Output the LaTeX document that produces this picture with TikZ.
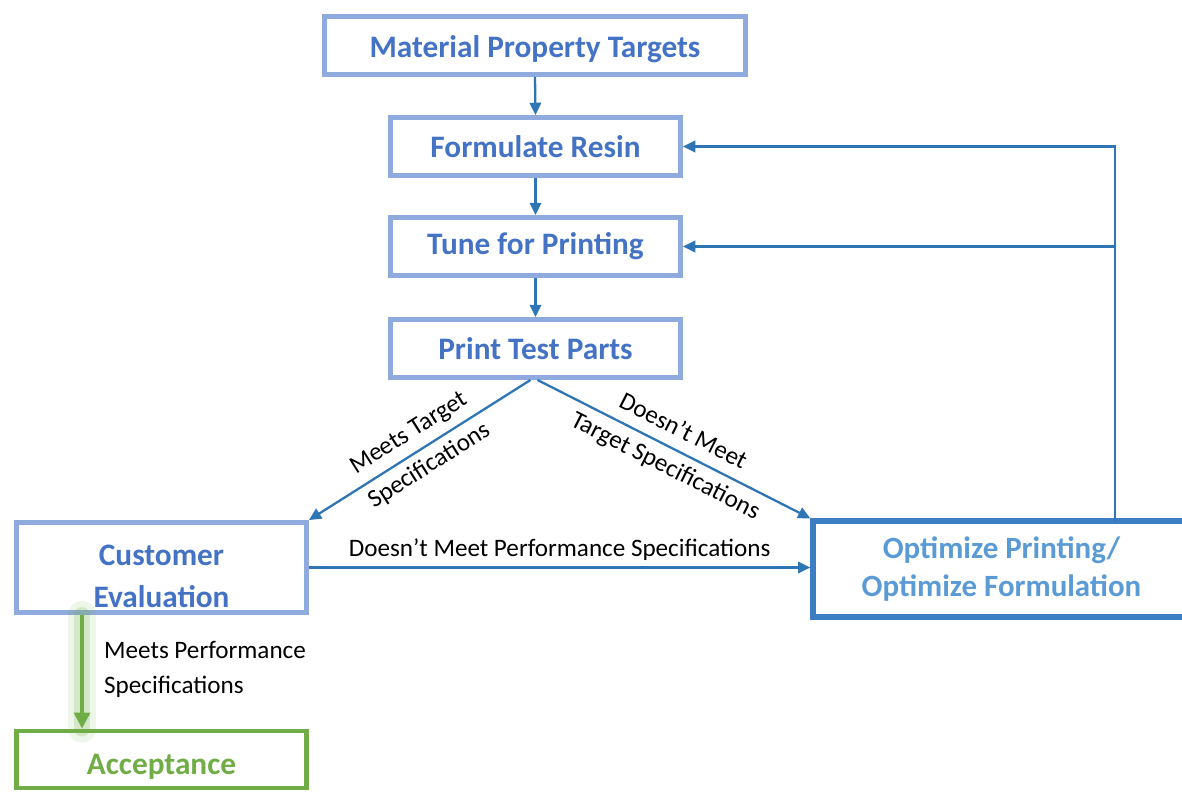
\documentclass[tikz,border=0pt]{standalone}
\usepackage{fontspec}
\setmainfont{Carlito}
\usetikzlibrary{arrows.meta}
\definecolor{boxline}{HTML}{8FAADC}
\definecolor{boxtext}{HTML}{4472C4}
\definecolor{optline}{HTML}{3D7EC2}
\definecolor{opttext}{HTML}{5B9BD5}
\definecolor{arrowblue}{HTML}{2E75B6}
\definecolor{accgreen}{HTML}{70AD47}
\tikzset{
  stepbox/.style={draw=boxline, line width=2.8pt, rectangle, text=boxtext,
    font=\fontsize{17.8pt}{21pt}\selectfont\bfseries, align=center, inner sep=0pt},
  optbox/.style={draw=optline, line width=3pt, rectangle, text=opttext,
    font=\fontsize{17.6pt}{22pt}\selectfont\bfseries, align=center, inner sep=0pt},
  accbox/.style={draw=accgreen, line width=2.8pt, rectangle, text=accgreen,
    font=\fontsize{17.8pt}{21pt}\selectfont\bfseries, align=center, inner sep=0pt},
  flow/.style={draw=arrowblue, line width=1.3pt, -{Triangle[length=7pt,width=6.5pt]}},
  lbl/.style={text=black, font=\fontsize{14.3pt}{17pt}\selectfont, align=center}
}
\begin{document}
\begin{tikzpicture}[x=0.02cm, y=-0.02cm]
  \useasboundingbox (0,0) rectangle (1182,792);

  % process boxes
  \node[stepbox, minimum width=421*0.02cm, minimum height=58*0.02cm,
        text height=17pt, text depth=3.7pt] (mpt) at (535,45.5) {Material Property Targets};
  \node[stepbox, minimum width=290*0.02cm, minimum height=58*0.02cm] (fr) at (535.5,146.5) {Formulate Resin};
  \node[stepbox, minimum width=290*0.02cm, minimum height=58*0.02cm] (tpr) at (535.5,246.5) {Tune for Printing};
  \node[stepbox, minimum width=290*0.02cm, minimum height=58*0.02cm] (ptp) at (535.5,348.5) {Print Test Parts};
  \node[stepbox, minimum width=290*0.02cm, minimum height=90*0.02cm,
        font=\fontsize{17.8pt}{23.8pt}\selectfont\bfseries,
        text height=45pt, text depth=0pt] (ce) at (161.5,567.5) {Customer\\Evaluation};
  \node[accbox, minimum width=290*0.02cm, minimum height=57*0.02cm,
        text height=20.5pt, text depth=3.7pt] (acc) at (161.5,759.5) {Acceptance};
  \node[optbox, minimum width=377*0.02cm, minimum height=96*0.02cm] (opt) at (1001.5,569) {Optimize Printing/\\Optimize Formulation};

  % main flow
  \draw[flow] (mpt.south) -- (fr.north);
  \draw[flow] (fr.south) -- (tpr.north);
  \draw[flow] (tpr.south) -- (ptp.north);

  \draw[flow] ([xshift=-0.1cm]ptp.south) -- (ce.north east)
    node[lbl, midway, sloped, font=\fontsize{14.3pt}{22pt}\selectfont] {Meets Target\\Specifications};
  \draw[flow] ([xshift=0.04cm]ptp.south) -- (opt.north west)
    node[lbl, midway, sloped, font=\fontsize{14.3pt}{22pt}\selectfont] {Doesn’t Meet\\Target Specifications};

  \draw[flow] (ce.east) -- (ce.east -| opt.west)
    node[lbl, midway, above=0pt] {Doesn’t Meet Performance Specifications};

  % feedback loop from optimisation back to formulation and tuning
  \coordinate (fb) at (1115,521);
  \draw[flow] (fb) |- (fr.east);
  \draw[flow] (fb |- tpr.east) -- (tpr.east);

  % acceptance path with soft glow
  \coordinate (gtop) at ([xshift=1.36cm]ce.south west);
  \coordinate (gbot) at ([xshift=1.36cm]acc.north west);
  \draw[accgreen, opacity=0.12, line width=16pt, line cap=round] (gtop) -- (gbot);
  \draw[accgreen, opacity=0.2, line width=9pt, line cap=round] (gtop) -- (gbot);
  \draw[accgreen, line width=1.8pt, -{Triangle[length=9pt,width=9pt]}] (gtop) -- (gbot);
  \node[lbl, align=left, anchor=west, font=\fontsize{14.3pt}{19.8pt}\selectfont] (mps) at (98,669) {Meets Performance\\Specifications};
\end{tikzpicture}
\end{document}
